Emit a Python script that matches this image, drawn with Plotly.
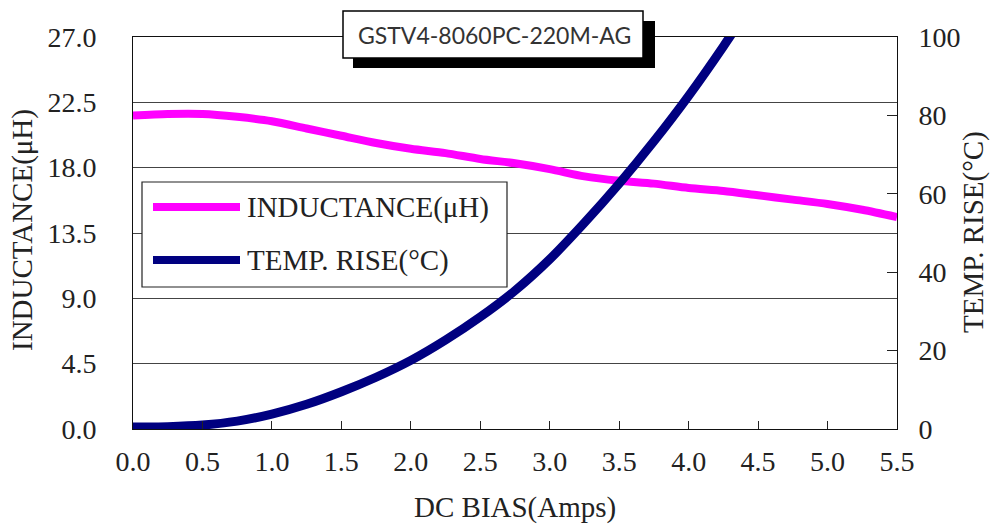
import plotly.graph_objects as go

# ---- data ----
bias_l = [0.0, 0.25, 0.5, 0.75, 1.0, 1.25, 1.5, 1.75, 2.0, 2.25, 2.5, 2.75,
          3.0, 3.25, 3.5, 3.75, 4.0, 4.25, 4.5, 4.75, 5.0, 5.25, 5.5]
inductance = [21.6, 21.7, 21.7, 21.5, 21.2, 20.7, 20.2, 19.7, 19.3, 19.0, 18.6, 18.3,
              17.9, 17.4, 17.1, 16.9, 16.6, 16.4, 16.1, 15.8, 15.5, 15.1, 14.6]

bias_t = [0.0, 0.25, 0.5, 0.75, 1.0, 1.25, 1.5, 1.75, 2.0, 2.25, 2.5, 2.75,
          3.0, 3.25, 3.5, 3.75, 4.0, 4.25, 4.5]
temp_rise = [0.5, 0.6, 1.0, 2.0, 3.8, 6.3, 9.5, 13.2, 17.5, 22.7, 28.6, 35.3,
             43.3, 52.6, 62.6, 73.4, 85.0, 97.6, 111.0]

x_ticks = [0.0, 0.5, 1.0, 1.5, 2.0, 2.5, 3.0, 3.5, 4.0, 4.5, 5.0, 5.5]
y_ticks = [0.0, 4.5, 9.0, 13.5, 18.0, 22.5, 27.0]
y2_ticks = [0, 20, 40, 60, 80, 100]

title_text = "GSTV4-8060PC-220M-AG"
name_l = "INDUCTANCE(μH)"
name_t = "TEMP. RISE(°C)"
x_title = "DC BIAS(Amps)"

MAGENTA = "#FF00FF"
NAVY = "#000080"
TXT = "#222222"
SERIF = "Liberation Serif"

W, H = 991, 524
L, R, T, B = 133, 897, 37, 429


def px(x):
    return (x - L) / (R - L)


def py(y):
    return (B - y) / (B - T)


fig = go.Figure()
fig.add_trace(go.Scatter(x=bias_l, y=inductance, mode="lines", name=name_l,
                         line=dict(color=MAGENTA, width=8, shape="spline", smoothing=0.8),
                         yaxis="y", showlegend=False, hoverinfo="skip"))
fig.add_trace(go.Scatter(x=bias_t, y=temp_rise, mode="lines", name=name_t,
                         line=dict(color=NAVY, width=9, shape="spline", smoothing=0.8),
                         yaxis="y2", showlegend=False, hoverinfo="skip"))

shapes = []
# title box shadow + box
shapes.append(dict(type="rect", xref="paper", yref="paper", layer="above",
                   x0=px(353), x1=px(655), y0=py(68), y1=py(21),
                   fillcolor="black", line=dict(width=0)))
shapes.append(dict(type="rect", xref="paper", yref="paper", layer="above",
                   x0=px(343), x1=px(643), y0=py(58), y1=py(11),
                   fillcolor="white", line=dict(color="black", width=1.5)))
# legend box
shapes.append(dict(type="rect", xref="paper", yref="paper", layer="above",
                   x0=px(142), x1=px(507), y0=py(287), y1=py(182),
                   fillcolor="white", line=dict(color="#222", width=1.2)))
shapes.append(dict(type="line", xref="paper", yref="paper", layer="above",
                   x0=px(153), x1=px(240), y0=py(207), y1=py(207),
                   line=dict(color=MAGENTA, width=8)))
shapes.append(dict(type="line", xref="paper", yref="paper", layer="above",
                   x0=px(153), x1=px(240), y0=py(260), y1=py(260),
                   line=dict(color=NAVY, width=8)))

annotations = [
    dict(text=title_text, xref="paper", yref="paper", x=px(494), y=py(35),
         showarrow=False, xanchor="center", yanchor="middle",
         font=dict(family="Lato", size=23, color="#333")),
    dict(text=name_l, xref="paper", yref="paper", x=px(245), y=py(207),
         showarrow=False, xanchor="left", yanchor="middle",
         font=dict(family=SERIF, size=29, color=TXT)),
    dict(text=name_t, xref="paper", yref="paper", x=px(245), y=py(260),
         showarrow=False, xanchor="left", yanchor="middle",
         font=dict(family=SERIF, size=29, color=TXT)),
    dict(text=x_title, xref="paper", yref="paper", x=px(515), y=py(508),
         showarrow=False, xanchor="center", yanchor="middle",
         font=dict(family=SERIF, size=29, color=TXT)),
    dict(text=name_l, xref="paper", yref="paper", x=px(22), y=py(230),
         showarrow=False, xanchor="center", yanchor="middle", textangle=-90,
         font=dict(family=SERIF, size=29, color=TXT)),
    dict(text=name_t, xref="paper", yref="paper", x=px(973), y=py(232),
         showarrow=False, xanchor="center", yanchor="middle", textangle=-90,
         font=dict(family=SERIF, size=29, color=TXT)),
]

tickfont = dict(family=SERIF, size=28, color=TXT)

fig.update_layout(
    width=W, height=H,
    margin=dict(l=L, r=W - R, t=T, b=H - B, pad=0),
    paper_bgcolor="white", plot_bgcolor="white",
    hovermode=False,
    xaxis=dict(range=[0, 5.5], tickvals=x_ticks, tickformat=".1f",
               ticks="inside", ticklen=8, tickcolor="#222", tickwidth=1,
               showline=True, linecolor="#111", linewidth=1, mirror=True,
               showgrid=False, zeroline=False, tickfont=tickfont,
               ticklabelstandoff=7),
    yaxis=dict(range=[0, 27], tickvals=y_ticks, tickformat=".1f",
               ticks="", showline=True, linecolor="#111", linewidth=1,
               showgrid=True, gridcolor="#444", gridwidth=1, zeroline=False,
               tickfont=tickfont, ticklabelstandoff=30),
    yaxis2=dict(range=[0, 100], tickvals=y2_ticks, overlaying="y", side="right",
                ticks="inside", ticklen=10, tickcolor="#222", tickwidth=1,
                showline=True, linecolor="#111", linewidth=1,
                showgrid=False, zeroline=False, tickfont=tickfont,
                ticklabelstandoff=15),
    shapes=shapes, annotations=annotations,
)

fig.write_html("out.html",
               config={"displayModeBar": False, "staticPlot": True},
               post_script="document.body.style.margin='0px';"
                           "document.body.style.padding='0px';")
